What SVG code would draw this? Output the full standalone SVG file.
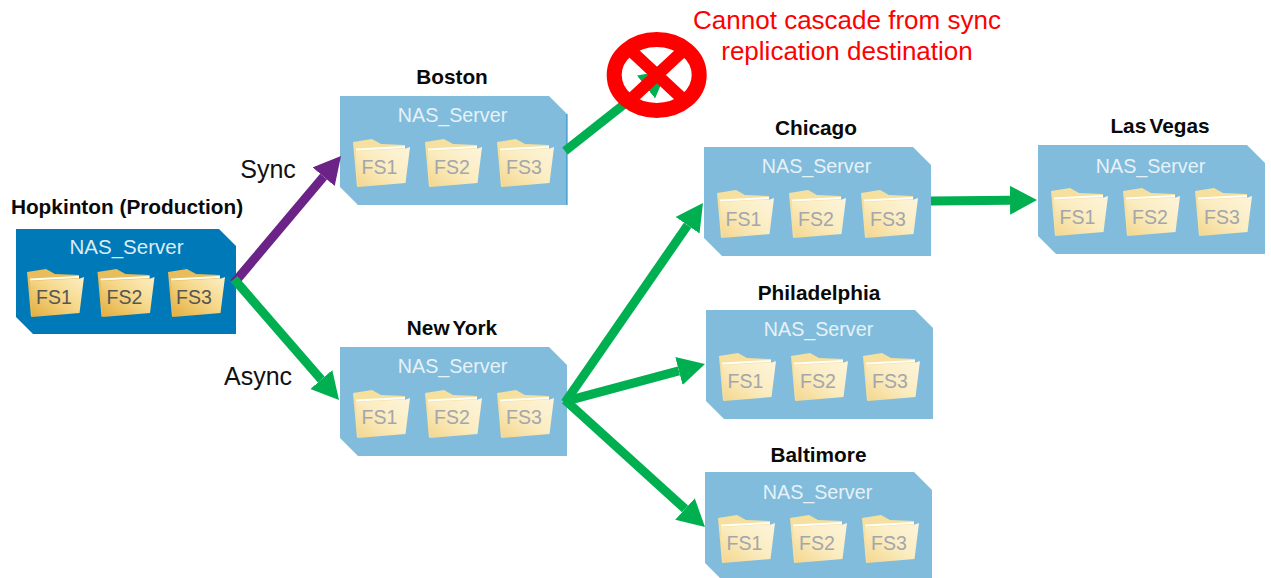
<svg xmlns="http://www.w3.org/2000/svg" width="1271" height="578" viewBox="0 0 1271 578">
<style>
text{font-family:"Liberation Sans",Arial,sans-serif;text-anchor:middle}
.name{font-size:20.800px;font-weight:bold;fill:#0a0a0a;word-spacing:-2.500px}
.srv{font-size:19.7px;fill:#e6f2f8}
.fs{font-size:19.500px;fill:#a3a6ab}
.hfs{font-size:19.500px;fill:#555}
.lbl{font-size:25px;fill:#111}
.warn{font-size:26px;fill:#f00}
.box{fill:#81bcdc}
.g{fill:none;stroke:#00b050;stroke-width:9;marker-end:url(#ag)}
.p{fill:none;stroke:#6b2388;stroke-width:9;marker-end:url(#ap)}
</style>
<defs>
<linearGradient id="fg" x1="0" y1="1" x2="1" y2="0"><stop offset="0" stop-color="#e2ac3c"/><stop offset=".55" stop-color="#f6d88a"/><stop offset="1" stop-color="#fcefc6"/></linearGradient>
<linearGradient id="fp" x1="0" y1="1" x2="1" y2="0"><stop offset="0" stop-color="#f3d68e"/><stop offset=".5" stop-color="#fbecc0"/><stop offset="1" stop-color="#fdf5dc"/></linearGradient>
<marker id="ag" markerUnits="userSpaceOnUse" markerWidth="30" markerHeight="30" refX="0" refY="14.5" orient="auto"><path d="M0,0L27,14.500L0,29Z" fill="#00b050"/></marker>
<marker id="ap" markerUnits="userSpaceOnUse" markerWidth="30" markerHeight="30" refX="0" refY="14.5" orient="auto"><path d="M0,0L27,14.500L0,29Z" fill="#6b2388"/></marker>
<g id="folder">
<path d="M0,3L19,0L28,5L52,6L52,12L4,48Z" fill="#e9bd5c"/>
<path d="M3,9.500L52,7L52,9L3,11.500Z" fill="#fffdf0"/>
<path d="M3,12L53,9.500L57,8L52.500,44L5,48Z" fill="url(#fg)"/>
</g>
<g id="ffolder">
<path d="M0,3L19,0L28,5L52,6L52,12L4,48Z" fill="#f6e0a0"/>
<path d="M3,9.500L52,7L52,9L3,11.500Z" fill="#fffef6"/>
<path d="M3,12L53,9.500L57,8L52.500,44L5,48Z" fill="url(#fp)"/>
</g>
<path id="sb" class="box" d="M0,0H209L227,18V109H18L0,91Z"/>
<g id="trio"><use href="#ffolder" x="13" y="43"/><use href="#ffolder" x="85" y="43"/><use href="#ffolder" x="157" y="43"/></g>
</defs>

<g id="hopkinton">
<text class="name" x="127" y="214" style="word-spacing:0">Hopkinton (Production)</text>
<path d="M16,229H219L236,246V334H33L16,317Z" fill="#0079b8"/>
<text x="126.500" y="254" style="font-size:20.500px;fill:#dcecf5">NAS_Server</text>
<use href="#folder" x="27" y="269"/><use href="#folder" x="97.500" y="269"/><use href="#folder" x="168" y="269"/>
<text class="hfs" x="54" y="304">FS1</text><text class="hfs" x="124.500" y="304">FS2</text><text class="hfs" x="194" y="304">FS3</text>
</g>

<g id="boston" transform="translate(340,96)">
<text class="name" x="112" y="-12">Boston</text>
<use href="#sb"/>
<path d="M227,18V109" stroke="#1c86c4" stroke-width="1" fill="none"/>
<text class="srv" x="112.500" y="26">NAS_Server</text>
<use href="#trio"/>
<text class="fs" x="39.500" y="78">FS1</text><text class="fs" x="112" y="78">FS2</text><text class="fs" x="184" y="78">FS3</text>
</g>

<g id="new-york" transform="translate(340,347)">
<text class="name" x="112" y="-12">New York</text>
<use href="#sb"/>
<text class="srv" x="112.500" y="26">NAS_Server</text>
<use href="#trio"/>
<text class="fs" x="39.500" y="77">FS1</text><text class="fs" x="112" y="77">FS2</text><text class="fs" x="184" y="77">FS3</text>
</g>

<g id="chicago" transform="translate(704,147)">
<text class="name" x="112" y="-12">Chicago</text>
<use href="#sb"/>
<text class="srv" x="112.500" y="26">NAS_Server</text>
<use href="#trio"/>
<text class="fs" x="39.500" y="79">FS1</text><text class="fs" x="112" y="79">FS2</text><text class="fs" x="184" y="79">FS3</text>
</g>

<g id="philadelphia" transform="translate(706,310)">
<text class="name" x="113" y="-10">Philadelphia</text>
<use href="#sb"/>
<text class="srv" x="112.500" y="26">NAS_Server</text>
<use href="#trio"/>
<text class="fs" x="39.500" y="78">FS1</text><text class="fs" x="112" y="78">FS2</text><text class="fs" x="184" y="78">FS3</text>
</g>

<g id="baltimore" transform="translate(705,472)">
<text class="name" x="113.500" y="-10">Baltimore</text>
<use href="#sb"/>
<text class="srv" x="112.500" y="27">NAS_Server</text>
<use href="#trio"/>
<text class="fs" x="39.500" y="78">FS1</text><text class="fs" x="112" y="78">FS2</text><text class="fs" x="184" y="78">FS3</text>
</g>

<g id="las-vegas" transform="translate(1038,145)">
<text class="name" x="122" y="-12">Las Vegas</text>
<use href="#sb"/>
<text class="srv" x="112.500" y="28">NAS_Server</text>
<use href="#trio"/>
<text class="fs" x="39.500" y="79">FS1</text><text class="fs" x="112" y="79">FS2</text><text class="fs" x="184" y="79">FS3</text>
</g>

<g id="connectors">
<path class="p" d="M234,283L323.6,176.7"/>
<path class="g" d="M234,279L321.3,379.6"/>
<path class="g" d="M565,151L646,87"/>
<path class="g" d="M565,402.500L687.6,225.2"/>
<path class="g" d="M565,401.300L678.9,370.9"/>
<path class="g" d="M565,400L685,508.9"/>
<path class="g" d="M931,201L1010,200.3"/>
</g>

<g id="prohibited" fill="none" stroke="#f00">
<ellipse cx="656.700" cy="75" rx="42.500" ry="35.500" stroke-width="15"/>
<path d="M628,48L686,102M686,48L628,102" stroke-width="12"/>
</g>

<text class="lbl" x="268" y="178">Sync</text>
<text class="lbl" x="258" y="385">Async</text>
<text class="warn" x="847" y="29">Cannot cascade from sync</text>
<text class="warn" x="847" y="60">replication destination</text>
</svg>
